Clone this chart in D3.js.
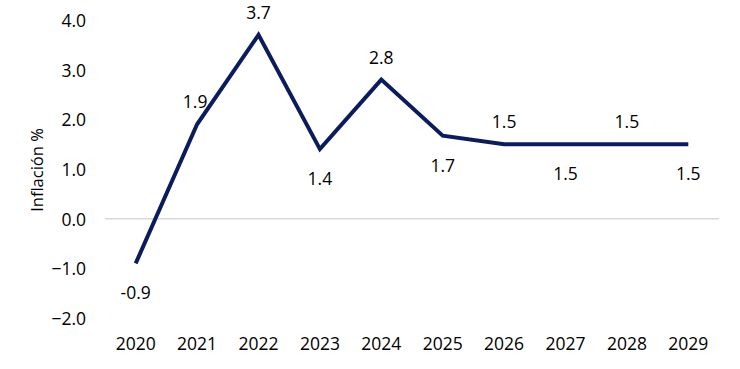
<!DOCTYPE html>
<html><head><meta charset="utf-8">
<script src="https://cdn.jsdelivr.net/npm/d3@7"></script>
<style>body{margin:0;background:#fff}text{font-family:"Open Sans",sans-serif}</style>
</head><body>
<svg id="c" width="740" height="369"></svg>
<script>
const years = ["2020","2021","2022","2023","2024","2025","2026","2027","2028","2029"];
const inflation = [-0.9, 1.9, 3.7, 1.4, 2.8, 1.67, 1.5, 1.5, 1.5, 1.5];
const labels = ["-0.9","1.9","3.7","1.4","2.8","1.7","1.5","1.5","1.5","1.5"];
const labelPos = ["below","aboveLeft","above","below","above","below","above","below","above","below"];
const yTicks = [-2, -1, 0, 1, 2, 3, 4];

const svg = d3.select("#c");
const x = d3.scaleBand().domain(years).range([105, 719]);
const y = d3.scaleLinear().domain([-2, 4]).range([318, 20]);

svg.append("line").attr("x1", 105).attr("x2", 719)
  .attr("y1", y(0)).attr("y2", y(0)).attr("stroke", "#d9d9d9").attr("stroke-width", 1.5);

const yAxis = d3.axisLeft(y).tickValues(yTicks).tickFormat(d3.format(".1f")).tickSize(0).tickPadding(0);
const gy = svg.append("g").attr("transform", "translate(86,1)").call(yAxis);
gy.select(".domain").remove();
gy.selectAll("text").attr("font-size", 17.5).attr("fill", "#000").attr("font-family", "Open Sans");

const xAxis = d3.axisBottom(x).tickSize(0).tickPadding(0);
const gx = svg.append("g").attr("transform", "translate(0,338)").call(xAxis);
gx.select(".domain").remove();
gx.selectAll("text").attr("font-size", 17.5).attr("fill", "#000").attr("font-family", "Open Sans");

svg.append("text").attr("transform", "translate(43,170) rotate(-90)")
  .attr("text-anchor", "middle").attr("font-size", 16.5).attr("fill", "#000").text("Inflación %");

const cx = d => x(d) + x.bandwidth() / 2;
const line = d3.line().x((d, i) => cx(years[i])).y(d => y(d));
svg.append("path").datum(inflation).attr("d", line)
  .attr("fill", "none").attr("stroke", "#0c1c5a").attr("stroke-width", 4).attr("stroke-linejoin", "miter");

svg.selectAll("text.lbl").data(inflation).enter().append("text").attr("class", "lbl")
  .attr("text-anchor", "middle").attr("font-size", 17.5).attr("fill", "#000")
  .attr("x", (d, i) => cx(years[i]) + (labelPos[i] === "aboveLeft" ? -2 : 0))
  .attr("y", (d, i) => labelPos[i] === "below" ? y(d) + 36 : y(d) - 16)
  .text((d, i) => labels[i]);
</script>
</body></html>
